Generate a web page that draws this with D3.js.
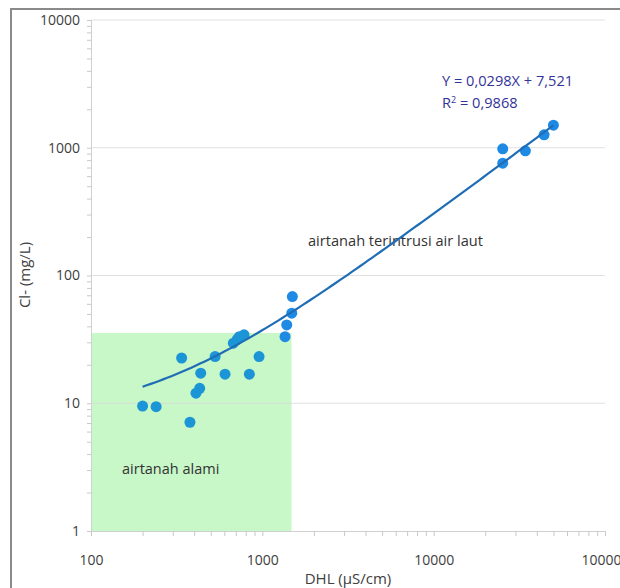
<!DOCTYPE html>
<html>
<head>
<meta charset="utf-8">
<script src="https://cdn.jsdelivr.net/npm/d3@7/dist/d3.min.js"></script>
<style>
  body { margin: 0; background: #fff; }
  svg text { font-family: "Open Sans", "Noto Sans", sans-serif; }
</style>
</head>
<body>
<div id="chart"></div>
<script>
// data
var dhlAlami = [200, 240, 378, 410, 431, 338, 437, 530, 606, 677, 715, 734, 782, 840, 957];
var clAlami  = [9.5, 9.4, 7.1, 12.0, 13.1, 22.6, 17.2, 23.2, 16.9, 29.5, 31.7, 33.2, 34.3, 16.9, 23.2];
var dhlIntrusi = [1357, 1388, 1485, 1497, 25300, 25300, 34300, 44100, 50000];
var clIntrusi  = [33.2, 41, 50.7, 68.4, 980, 757, 946, 1262, 1503];
var xTicks = [100, 1000, 10000, 100000];
var yTicks = [1, 10, 100, 1000, 10000];
// trendline as printed on the chart
var trendSlope = 0.0298, trendIntercept = 7.521, trendRange = [200, 50000];
var zoneAlami = { x: [100, 1480], y: [1, 35.5] };

var W = 620, H = 588;
var svg = d3.select("#chart").append("svg").attr("width", W).attr("height", H);

var x = d3.scaleLog().domain([100, 100000]).range([91, 605]);
var y = d3.scaleLog().domain([1, 10000]).range([531, 20]);

// outer frame
svg.append("rect").attr("x", 11).attr("y", 9).attr("width", 630).attr("height", 600)
	.attr("fill", "none").attr("stroke", "#8a8a8a").attr("stroke-width", 2);

// green zone
svg.append("rect")
	.attr("x", x(zoneAlami.x[0])).attr("y", y(zoneAlami.y[1]))
	.attr("width", x(zoneAlami.x[1]) - x(zoneAlami.x[0]))
	.attr("height", y(zoneAlami.y[0]) - y(zoneAlami.y[1]))
	.attr("fill", "#c8f7c8");

// gridlines
svg.append("g").selectAll("line").data(yTicks.slice(1)).enter().append("line")
	.attr("x1", x(100)).attr("x2", x(100000))
	.attr("y1", function (d) { return y(d); }).attr("y2", function (d) { return y(d); })
	.attr("stroke", "#d9d9d9").attr("stroke-opacity", 0.8);

function logTicks(lo, hi) {
	var t = [];
	for (var p = lo; p < hi; p *= 10)
		for (var k = 1; k < 10; k++) t.push(p * k);
	t.push(hi);
	return t;
}
function isMajor(d) { return Math.abs(Math.log10(d) - Math.round(Math.log10(d))) < 1e-9; }

// y axis
var yAxis = d3.axisLeft(y).tickValues(logTicks(1, 10000)).tickSize(4).tickPadding(7)
	.tickFormat(function (d) { return isMajor(d) ? d : ""; });
var gy = svg.append("g").attr("transform", "translate(" + x(100) + ",0)").call(yAxis);
gy.select(".domain").attr("stroke", "#d0d0d0");
gy.selectAll(".tick line").attr("stroke", "#c8c8c8");
gy.selectAll(".tick text").attr("fill", "#404040").style("font-size", "14px");

// x axis
var xAxis = d3.axisBottom(x).tickValues(logTicks(100, 100000)).tickSize(5).tickPadding(19)
	.tickFormat(function (d) { return isMajor(d) ? d : ""; });
var gx = svg.append("g").attr("transform", "translate(0," + y(1) + ")").call(xAxis);
gx.select(".domain").attr("stroke", "#d0d0d0");
gx.selectAll(".tick line").attr("stroke", "#c8c8c8");
gx.selectAll(".tick text").attr("fill", "#404040").style("font-size", "14px");

// axis titles
svg.append("text").attr("x", 348).attr("y", 584).attr("text-anchor", "middle")
	.attr("fill", "#404040").style("font-size", "15px").text("DHL (µS/cm)");
svg.append("text").attr("transform", "translate(30,275) rotate(-90)").attr("text-anchor", "middle")
	.attr("fill", "#404040").style("font-size", "15px").text("Cl- (mg/L)");

// zone labels
svg.append("text").attr("x", 122).attr("y", 474).attr("fill", "#333")
	.style("font-size", "14.5px").text("airtanah alami");
svg.append("text").attr("x", 308).attr("y", 246).attr("fill", "#333")
	.style("font-size", "14.6px").text("airtanah terintrusi air laut");

// points
svg.append("g").selectAll("circle").data(d3.zip(dhlAlami, clAlami)).enter().append("circle")
	.attr("cx", function (d) { return x(d[0]); }).attr("cy", function (d) { return y(d[1]); })
	.attr("r", 5.5).attr("fill", "#1b95d6");
svg.append("g").selectAll("circle").data(d3.zip(dhlIntrusi, clIntrusi)).enter().append("circle")
	.attr("cx", function (d) { return x(d[0]); }).attr("cy", function (d) { return y(d[1]); })
	.attr("r", 5.5).attr("fill", "#1f8ae4");

// trendline
var trendX = d3.range(0, 101).map(function (i) {
	return Math.pow(10, Math.log10(trendRange[0]) + i / 100 * (Math.log10(trendRange[1]) - Math.log10(trendRange[0])));
});
svg.append("path").datum(trendX)
	.attr("d", d3.line().x(function (d) { return x(d); }).y(function (d) { return y(trendSlope * d + trendIntercept); }))
	.attr("fill", "none").attr("stroke", "#1f6db5").attr("stroke-width", 2.2);

// equation
svg.append("text").attr("x", 442).attr("y", 86).attr("fill", "#333399")
	.style("font-size", "14.6px").text("Y = 0,0298X + 7,521");
var r2 = svg.append("text").attr("x", 442).attr("y", 108).attr("fill", "#333399").style("font-size", "14.6px");
r2.append("tspan").text("R");
r2.append("tspan").attr("dy", -5).style("font-size", "9px").text("2");
r2.append("tspan").attr("dy", 5).text(" = 0,9868");
</script>
</body>
</html>
